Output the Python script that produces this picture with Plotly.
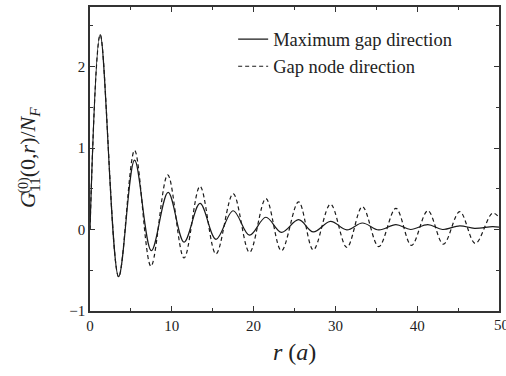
import plotly.graph_objects as go

# Maximum gap direction (solid): extrema
r_max = [0.0, 1.25, 3.5, 5.45, 7.5, 9.55, 11.5, 13.45, 15.4, 17.5, 19.5, 21.5, 23.4,
         25.5, 27.3, 29.4, 31.4, 33.3, 35.3, 37.4, 39.2, 41.3, 43.1, 45.2, 47.0, 49.2, 50.0]
g_max = [0.0, 2.39, -0.58, 0.85, -0.26, 0.455, -0.155, 0.32, -0.12, 0.23, -0.07, 0.15, -0.035,
         0.12, -0.03, 0.10, -0.005, 0.08, -0.005, 0.06, 0.0, 0.06, 0.0, 0.045, 0.015, 0.035, 0.03]

# Gap node direction (dashed)
r_node = [0.0, 1.25, 3.5, 5.45, 7.45, 9.5, 11.5, 13.45, 15.4, 17.5, 19.5, 21.5, 23.4,
          25.5, 27.3, 29.4, 31.4, 33.3, 35.3, 37.4, 39.3, 41.3, 43.2, 45.2, 47.1, 49.2, 50.0]
g_node = [0.0, 2.39, -0.58, 0.97, -0.45, 0.67, -0.35, 0.53, -0.30, 0.44, -0.28, 0.38, -0.26,
          0.34, -0.25, 0.31, -0.22, 0.28, -0.21, 0.26, -0.195, 0.23, -0.18, 0.22, -0.17, 0.20, 0.15]

x_ticks = [0, 10, 20, 30, 40]
x_last_tick = 50
y_ticks = [-1, 0, 1, 2]
y_tick_text = ["\u22121", "0", "1", "2"]

FONT = "Liberation Serif, Times New Roman, serif"
INK = "#222"

fig = go.Figure()
fig.add_trace(go.Scatter(x=r_max, y=g_max, mode="lines", name="Maximum gap direction",
                         line=dict(color="#1a1a1a", width=1.2, shape="spline", smoothing=1.0)))
fig.add_trace(go.Scatter(x=r_node, y=g_node, mode="lines", name="Gap node direction",
                         line=dict(color="#1a1a1a", width=1.2, shape="spline", smoothing=1.0,
                                   dash="4px,3px")))

axis_common = dict(showgrid=False, zeroline=False, showline=True, linecolor="#333",
                   linewidth=1.5, mirror="ticks", ticks="inside", ticklen=5, tickwidth=1,
                   tickcolor="#333", tickfont=dict(family=FONT, size=15, color=INK))

fig.update_xaxes(range=[0, 50], tickvals=x_ticks + [x_last_tick],
                 ticktext=[str(v) for v in x_ticks] + [""],
                 minor=dict(dtick=5, ticks="inside", ticklen=3, tickcolor="#333"),
                 **axis_common)
fig.update_yaxes(range=[-1, 2.73], tickvals=y_ticks, ticktext=y_tick_text,
                 minor=dict(dtick=0.5, ticks="inside", ticklen=3, tickcolor="#333"),
                 **axis_common)

# last x tick label, partly cut by the page edge as in the reference
fig.add_annotation(text=str(x_last_tick), xref="x", yref="paper", x=x_last_tick, y=-0.012,
                   xanchor="left", xshift=-7, yanchor="top", showarrow=False,
                   font=dict(family=FONT, size=15, color=INK))

fig.add_annotation(text="<i>r</i> (<i>a</i>)", xref="paper", yref="paper", x=0.5, y=-0.135,
                   showarrow=False, yanchor="middle",
                   font=dict(family=FONT, size=24, color=INK))
fig.add_annotation(text="<i>G</i><sub>11</sub>(0,<i>r</i>)/<i>N<sub>F</sub></i>",
                   xref="paper", yref="paper", x=-0.148, y=0.505, textangle=-90,
                   showarrow=False, xanchor="center", yanchor="middle",
                   font=dict(family=FONT, size=22, color=INK))
fig.add_annotation(text="(0)", xref="paper", yref="paper", x=-0.162, y=0.415, textangle=-90,
                   showarrow=False, xanchor="center", yanchor="middle",
                   font=dict(family=FONT, size=14, color=INK))

fig.update_layout(
    width=506, height=376,
    margin=dict(l=90, r=6, t=5, b=65),
    plot_bgcolor="white", paper_bgcolor="white",
    showlegend=True,
    legend=dict(x=0.35, y=0.955, xanchor="left", yanchor="top", bgcolor="rgba(0,0,0,0)",
                font=dict(family=FONT, size=18.5, color=INK), tracegroupgap=0,
                itemwidth=30),
)

fig.write_html("out.html")
